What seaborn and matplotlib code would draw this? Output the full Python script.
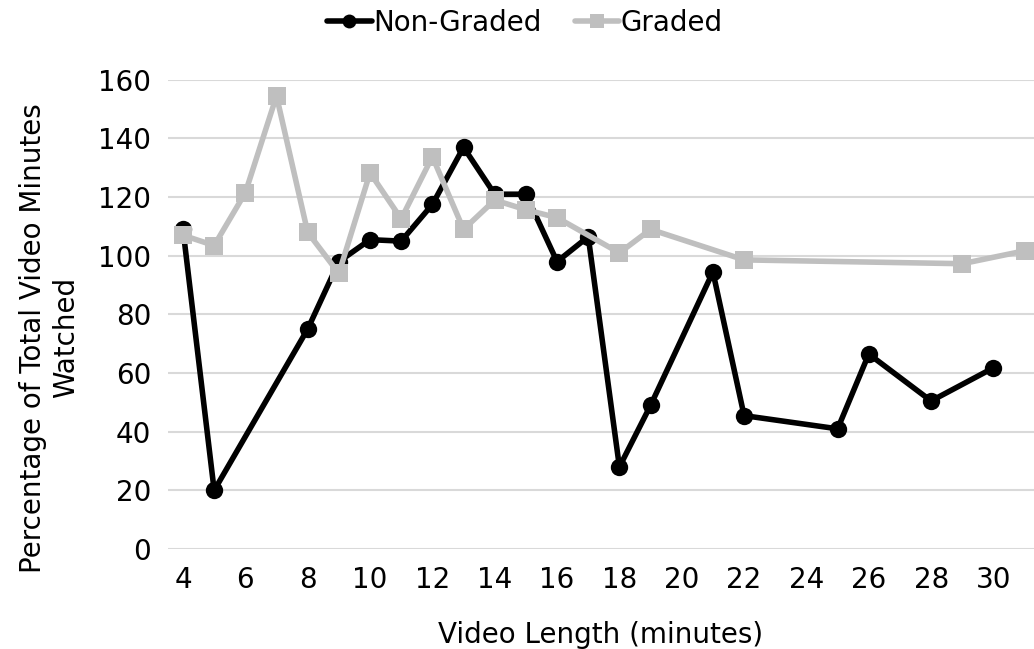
import numpy as np
import pandas as pd
import seaborn as sns
from matplotlib import pyplot as plt

sns.set_theme(style="white")
plt.rcParams['font.family'] = ['DejaVu Sans']
plt.rcParams['text.color'] = 'black'
plt.rcParams['axes.labelcolor'] = 'black'
plt.rcParams['xtick.color'] = 'black'
plt.rcParams['ytick.color'] = 'black'

ng_len = [4, 5, 8, 9, 10, 11, 12, 13, 14, 15, 16, 17, 18, 19, 21, 22, 25, 26, 28, 30]
ng_pct = [109, 20, 75, 98, 105.5, 105, 117.5, 137, 121, 121, 98, 106.5, 28, 49, 94.5, 45.5, 41, 66.5, 50.5, 61.8]

g_len = [4, 5, 6, 7, 8, 9, 10, 11, 12, 13, 14, 15, 16, 18, 19, 22, 29, 31]
g_pct = [107, 103.5, 121.5, 154.5, 108, 94, 128.3, 112.6, 133.8, 109, 119, 115.7, 113, 101, 109, 98.6, 97.3, 101.7]

df = pd.concat([
    pd.DataFrame({'len': ng_len, 'pct': ng_pct, 'grp': 'Non-Graded'}),
    pd.DataFrame({'len': g_len, 'pct': g_pct, 'grp': 'Graded'}),
])

fig = plt.figure(figsize=(10.34, 6.49), dpi=100)
ax = fig.add_axes([0.1625, 0.154, 0.8375, 0.723])

ax = sns.lineplot(data=df, x='len', y='pct', hue='grp', style='grp',
                  palette={'Non-Graded': 'black', 'Graded': '#BFBFBF'},
                  markers={'Non-Graded': 'o', 'Graded': 's'},
                  dashes=False, linewidth=4, markersize=12.5, markeredgewidth=0,
                  sort=True, estimator=None, ax=ax, clip_on=False)

ax.set_xlim(3.52, 31.3)
ax.set_ylim(0, 160)
ax.set_xticks(np.arange(4, 31, 2))
ax.set_yticks(np.arange(0, 161, 20))
ax.yaxis.grid(True, color='#D9D9D9', linewidth=1.5)
ax.set_axisbelow(True)
for s in ax.spines.values():
    s.set_visible(False)
ax.tick_params(labelsize=20, length=0, pad=12)
ax.set_xlabel('Video Length (minutes)', fontsize=20, labelpad=20)
ax.set_ylabel('Percentage of Total Video Minutes\nWatched', fontsize=20)
ax.yaxis.set_label_coords(-0.102, 0.45)

leg = ax.legend(loc='center', bbox_to_anchor=(0.412, 1.122), ncol=2, frameon=False,
                fontsize=20, handlelength=1.6, handletextpad=0.05, columnspacing=1.2,
                borderaxespad=0, markerscale=0.8)

fig.savefig('out.png', dpi=100)
